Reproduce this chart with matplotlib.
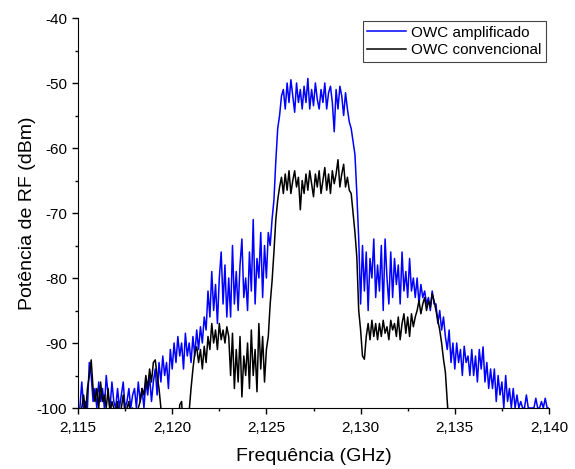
import numpy as np
import matplotlib
matplotlib.use("Agg")
import matplotlib.pyplot as plt
from matplotlib.ticker import MultipleLocator, FuncFormatter

plt.rcParams['font.family'] = ['Liberation Sans', 'DejaVu Sans']

# frequency grid: 2.115 -> 2.140 GHz, 0.1 MHz steps
f_start = 2.115
f_step = 0.0001

# OWC amplificado (blue), one row per MHz
amplificado = [
    -100, -100, -96, -100, -99, -100, -93, -95, -99, -97,
    -100, -96, -99, -97, -100, -95, -98, -100, -96, -99,
    -100, -97, -100, -98, -96, -100, -99, -97, -100, -98,
    -97, -100, -96, -99, -97, -100, -96, -98, -95, -99,
    -96, -94, -98, -93, -96, -92, -95, -93, -97, -91,
    -94, -90, -93, -89, -92, -90, -94, -88.5, -92, -90,
    -93, -89, -92, -88, -91, -87.5, -90, -86, -88, -82,
    -86, -79, -85, -81, -87, -80, -76, -84, -78, -86,
    -80, -86, -75, -84, -79, -85, -78, -74, -83, -80,
    -85, -76, -82, -71, -84, -77, -80, -73, -83, -75,
    -80, -73, -75, -71, -68, -62, -57, -55, -52, -51,
    -54, -50, -53, -49.5, -52, -54.5, -50, -53, -51, -54,
    -50.5, -53, -49.3, -54, -51, -53.5, -50, -52.5, -54, -51,
    -53, -50, -54, -51.5, -50.5, -53, -57.5, -51, -54, -50.5,
    -52, -55, -51.5, -54, -56, -57, -59, -61, -67, -74,
    -84, -75, -82, -76, -85, -77, -80, -74, -83, -78,
    -82, -75, -85, -74, -80, -84, -76, -83, -77, -81,
    -78, -84, -76, -82, -79, -83, -77, -82, -80, -83,
    -80, -84, -81, -83, -82, -84, -83, -85, -82, -84,
    -84, -87, -85, -88, -86, -89, -91, -88, -93, -90,
    -94, -90, -93, -91, -95, -90.5, -93, -92, -95, -91,
    -95, -92, -96, -91, -94, -90.6, -96, -93, -97, -94,
    -97, -94, -99, -95, -98, -96, -100, -95, -99, -97,
    -100, -97, -100, -98, -100, -99, -100, -100, -98, -100,
    -100, -100, -100, -98.5, -100, -100, -99, -100, -98.5, -100,
    -100,
]

# OWC convencional (black)
convencional = [
    -103, -102, -100, -98, -101, -97, -95, -92.6, -97, -99,
    -97, -100, -96, -99, -98, -100, -97, -101, -99, -100,
    -101, -99, -102, -100, -98, -101, -100, -99, -102, -100,
    -101, -102, -100, -99, -97, -98, -95, -97, -94, -96,
    -93, -92.6, -95, -97, -100, -103, -104, -104, -104, -104,
    -104, -104, -104, -104, -99.5, -99, -104, -104, -104, -100.5,
    -97, -94, -91.5, -90.6, -93, -91, -94, -90.5, -93, -89,
    -91, -87, -90, -88, -91, -87, -89.5, -88, -90, -87.5,
    -89, -95, -88.5, -97, -91, -96, -89, -98.3, -92, -95,
    -90, -97, -88, -95, -91, -97.5, -87, -94, -89, -96,
    -91, -89, -84, -80.5, -76, -71, -68, -66, -64.5, -67,
    -64, -66.5, -63.5, -67, -65, -63.5, -66, -64.5, -69.5, -65,
    -67, -64, -66.5, -63.5, -65.5, -67.5, -64, -66, -63.5, -67,
    -65, -63, -66.5, -64, -67, -63.5, -65.5, -64, -61.8, -66,
    -64, -62.5, -66, -64.5, -66.5, -67, -70, -73, -76.8, -85,
    -88, -92, -92.5, -89, -87, -89.5, -86.5, -89, -87, -89.5,
    -87, -89, -86.5, -88.5, -87.5, -89.5, -86.5, -88, -87, -89,
    -86, -89.5, -87, -85.5, -88.5, -86, -89, -85.5, -87.5, -86,
    -85, -83.5, -85.5, -84, -83, -85, -83.5, -84.5, -82.4, -83.5,
    -85, -86.5, -88, -90, -92.5, -94.5, -99, -103, -104, -104,
    -104, -104, -104, -104, -104, -104, -104, -104, -104, -104,
    -104, -104, -104, -104, -104, -104, -104, -104, -104, -104,
    -104, -104, -104, -104, -104, -104, -104, -104, -104, -104,
    -104, -104, -104, -104, -104, -104, -104, -104, -104, -104,
    -104, -104, -104, -104, -104, -104, -104, -104, -104, -104,
    -104,
]

freq = f_start + f_step * np.arange(len(amplificado))

fig = plt.figure(figsize=(5.75, 4.69), dpi=100)
ax = fig.add_axes([78 / 575, 61 / 469, 471 / 575, 390 / 469])

ax.plot(freq, amplificado, color='#0000ff', lw=1.1, label='OWC amplificado')
ax.plot(freq, convencional, color='black', lw=1.1, label='OWC convencional')

ax.set_xlim(2.115, 2.140)
ax.set_ylim(-100, -40)
ax.xaxis.set_major_locator(MultipleLocator(0.005))
ax.xaxis.set_minor_locator(MultipleLocator(0.0025))
ax.yaxis.set_major_locator(MultipleLocator(10))
ax.yaxis.set_minor_locator(MultipleLocator(5))
ax.xaxis.set_major_formatter(FuncFormatter(lambda v, p: ('%.3f' % v).replace('.', ',')))
ax.yaxis.set_major_formatter(FuncFormatter(lambda v, p: '%d' % v))

for s in ['top', 'right']:
    ax.spines[s].set_visible(False)
ax.tick_params(which='major', direction='out', length=4, width=1, labelsize=11, pad=4)
ax.tick_params(axis='x', which='major', pad=5)
ax.tick_params(which='minor', direction='out', length=2.5, width=1)

ax.set_xlabel('Frequência (GHz)', fontsize=14, labelpad=10)
ax.set_ylabel('Potência de RF (dBm)', fontsize=14, labelpad=0)

leg = ax.legend(loc='upper right', fontsize=11, fancybox=False, framealpha=1,
                edgecolor='#444444', borderaxespad=0.2, handlelength=2.5,
                handletextpad=0.35, labelspacing=0.22, borderpad=0.3)
leg.get_frame().set_linewidth(0.8)

fig.savefig('out.png', dpi=100)
